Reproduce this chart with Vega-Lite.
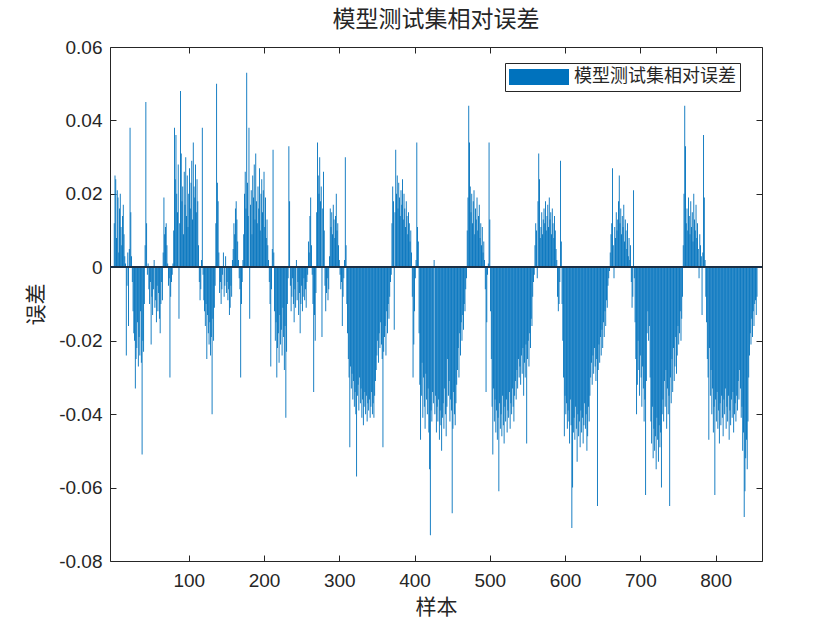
{
"$schema":"https://vega.github.io/schema/vega-lite/v6.json",
"width":652,"height":514,
"autosize":{"type":"none"},
"padding":{"left":110,"top":47,"right":78,"bottom":69},
"background":"white",
"title":{"text":"模型测试集相对误差","font":"Noto Sans CJK SC","fontSize":23,"fontWeight":"normal","color":"#262626","offset":6},
"config":{"view":{"stroke":"#262626","strokeWidth":1},
"axis":{"labelFont":"Liberation Sans","labelFontSize":19,"labelColor":"#262626","tickColor":"#262626","domain":false,"grid":false,"tickSize":-6,"titleFont":"Noto Sans CJK SC","titleFontSize":21,"titleFontWeight":"normal","titleColor":"#262626"}},
"data":{"values":[
{"x":1,"y":0.012},{"x":2,"y":0.025},{"x":3,"y":0.024},{"x":4,"y":0.008},{"x":5,"y":0.021},{"x":6,"y":0.019},{"x":7,"y":0.004},{"x":8,"y":0.016},{"x":9,"y":0.020},{"x":10,"y":0.011},
{"x":11,"y":0.006},{"x":12,"y":0.014},{"x":13,"y":0.017},{"x":14,"y":0.009},{"x":15,"y":0.003},{"x":16,"y":0.001},{"x":17,"y":-0.024},{"x":18,"y":-0.005},{"x":19,"y":0.004},{"x":20,"y":-0.016},
{"x":21,"y":0.005},{"x":22,"y":0.038},{"x":23,"y":0.015},{"x":24,"y":0.003},{"x":25,"y":-0.004},{"x":26,"y":-0.012},{"x":27,"y":-0.018},{"x":28,"y":-0.020},{"x":29,"y":-0.033},{"x":30,"y":-0.025},
{"x":31,"y":-0.022},{"x":32,"y":-0.015},{"x":33,"y":-0.027},{"x":34,"y":-0.019},{"x":35,"y":-0.024},{"x":36,"y":-0.012},{"x":37,"y":-0.026},{"x":38,"y":-0.051},{"x":39,"y":-0.020},{"x":40,"y":-0.023},
{"x":41,"y":-0.010},{"x":42,"y":0.006},{"x":43,"y":0.045},{"x":44,"y":0.012},{"x":45,"y":-0.002},{"x":46,"y":0.001},{"x":47,"y":-0.006},{"x":48,"y":-0.010},{"x":49,"y":-0.004},{"x":50,"y":-0.021},
{"x":51,"y":-0.008},{"x":52,"y":-0.013},{"x":53,"y":-0.006},{"x":54,"y":0.002},{"x":55,"y":-0.011},{"x":56,"y":-0.009},{"x":57,"y":-0.015},{"x":58,"y":-0.005},{"x":59,"y":-0.012},{"x":60,"y":-0.007},
{"x":61,"y":-0.014},{"x":62,"y":-0.018},{"x":63,"y":-0.010},{"x":64,"y":-0.004},{"x":65,"y":-0.009},{"x":66,"y":0.004},{"x":67,"y":0.019},{"x":68,"y":0.009},{"x":69,"y":0.011},{"x":70,"y":0.012},
{"x":71,"y":0.006},{"x":72,"y":0.001},{"x":73,"y":-0.005},{"x":74,"y":-0.003},{"x":75,"y":-0.030},{"x":76,"y":-0.008},{"x":77,"y":-0.004},{"x":78,"y":-0.002},{"x":79,"y":0.001},{"x":80,"y":0.010},
{"x":81,"y":0.038},{"x":82,"y":0.024},{"x":83,"y":0.036},{"x":84,"y":0.020},{"x":85,"y":0.015},{"x":86,"y":0.028},{"x":87,"y":-0.014},{"x":88,"y":0.012},{"x":89,"y":0.048},{"x":90,"y":0.031},
{"x":91,"y":0.018},{"x":92,"y":0.022},{"x":93,"y":0.009},{"x":94,"y":0.026},{"x":95,"y":0.017},{"x":96,"y":0.030},{"x":97,"y":0.014},{"x":98,"y":0.025},{"x":99,"y":0.011},{"x":100,"y":0.020},
{"x":101,"y":0.027},{"x":102,"y":0.016},{"x":103,"y":0.023},{"x":104,"y":0.029},{"x":105,"y":0.013},{"x":106,"y":0.034},{"x":107,"y":0.022},{"x":108,"y":0.019},{"x":109,"y":0.028},{"x":110,"y":0.015},
{"x":111,"y":0.024},{"x":112,"y":0.018},{"x":113,"y":0.006},{"x":114,"y":-0.004},{"x":115,"y":-0.009},{"x":116,"y":-0.006},{"x":117,"y":0.002},{"x":118,"y":0.038},{"x":119,"y":-0.002},{"x":120,"y":-0.009},
{"x":121,"y":-0.012},{"x":122,"y":-0.016},{"x":123,"y":-0.010},{"x":124,"y":-0.025},{"x":125,"y":-0.013},{"x":126,"y":-0.018},{"x":127,"y":-0.021},{"x":128,"y":-0.015},{"x":129,"y":-0.024},{"x":130,"y":-0.019},
{"x":131,"y":-0.040},{"x":132,"y":-0.014},{"x":133,"y":-0.020},{"x":134,"y":-0.011},{"x":135,"y":-0.005},{"x":136,"y":0.012},{"x":137,"y":0.050},{"x":138,"y":0.023},{"x":139,"y":0.018},{"x":140,"y":0.004},
{"x":141,"y":-0.007},{"x":142,"y":-0.004},{"x":143,"y":-0.010},{"x":144,"y":-0.006},{"x":145,"y":-0.002},{"x":146,"y":0.004},{"x":147,"y":-0.008},{"x":148,"y":-0.005},{"x":149,"y":0.003},{"x":150,"y":-0.007},
{"x":151,"y":-0.004},{"x":152,"y":-0.009},{"x":153,"y":-0.006},{"x":154,"y":-0.013},{"x":155,"y":-0.011},{"x":156,"y":-0.005},{"x":157,"y":-0.008},{"x":158,"y":0.002},{"x":159,"y":0.005},{"x":160,"y":0.012},
{"x":161,"y":0.009},{"x":162,"y":0.016},{"x":163,"y":0.018},{"x":164,"y":0.013},{"x":165,"y":0.007},{"x":166,"y":0.002},{"x":167,"y":-0.003},{"x":168,"y":-0.006},{"x":169,"y":-0.030},{"x":170,"y":-0.010},
{"x":171,"y":-0.004},{"x":172,"y":0.002},{"x":173,"y":0.009},{"x":174,"y":0.020},{"x":175,"y":0.026},{"x":176,"y":0.016},{"x":177,"y":0.053},{"x":178,"y":0.023},{"x":179,"y":0.014},{"x":180,"y":0.038},
{"x":181,"y":-0.014},{"x":182,"y":0.017},{"x":183,"y":0.021},{"x":184,"y":0.009},{"x":185,"y":0.025},{"x":186,"y":0.019},{"x":187,"y":0.028},{"x":188,"y":0.013},{"x":189,"y":0.031},{"x":190,"y":0.018},
{"x":191,"y":0.012},{"x":192,"y":0.022},{"x":193,"y":0.016},{"x":194,"y":0.027},{"x":195,"y":0.010},{"x":196,"y":0.020},{"x":197,"y":0.024},{"x":198,"y":0.015},{"x":199,"y":0.021},{"x":200,"y":0.026},
{"x":201,"y":0.011},{"x":202,"y":0.019},{"x":203,"y":0.008},{"x":204,"y":0.013},{"x":205,"y":0.006},{"x":206,"y":0.002},{"x":207,"y":-0.004},{"x":208,"y":-0.010},{"x":209,"y":-0.027},{"x":210,"y":-0.006},
{"x":211,"y":0.005},{"x":212,"y":0.032},{"x":213,"y":0.004},{"x":214,"y":-0.012},{"x":215,"y":-0.020},{"x":216,"y":-0.015},{"x":217,"y":-0.030},{"x":218,"y":-0.022},{"x":219,"y":-0.018},{"x":220,"y":-0.026},
{"x":221,"y":-0.013},{"x":222,"y":-0.021},{"x":223,"y":-0.017},{"x":224,"y":-0.024},{"x":225,"y":-0.011},{"x":226,"y":-0.019},{"x":227,"y":-0.028},{"x":228,"y":-0.016},{"x":229,"y":-0.041},{"x":230,"y":-0.023},
{"x":231,"y":-0.010},{"x":232,"y":-0.003},{"x":233,"y":0.033},{"x":234,"y":0.018},{"x":235,"y":-0.005},{"x":236,"y":-0.012},{"x":237,"y":-0.008},{"x":238,"y":-0.003},{"x":239,"y":-0.010},{"x":240,"y":-0.015},
{"x":241,"y":-0.006},{"x":242,"y":-0.011},{"x":243,"y":0.002},{"x":244,"y":-0.009},{"x":245,"y":-0.004},{"x":246,"y":-0.013},{"x":247,"y":-0.007},{"x":248,"y":-0.018},{"x":249,"y":-0.010},{"x":250,"y":-0.005},
{"x":251,"y":-0.012},{"x":252,"y":-0.008},{"x":253,"y":-0.003},{"x":254,"y":-0.009},{"x":255,"y":-0.006},{"x":256,"y":-0.011},{"x":257,"y":-0.004},{"x":258,"y":-0.002},{"x":259,"y":0.007},{"x":260,"y":0.004},
{"x":261,"y":0.014},{"x":262,"y":0.019},{"x":263,"y":0.006},{"x":264,"y":-0.002},{"x":265,"y":-0.010},{"x":266,"y":-0.034},{"x":267,"y":-0.013},{"x":268,"y":-0.020},{"x":269,"y":-0.007},{"x":270,"y":0.015},
{"x":271,"y":0.034},{"x":272,"y":0.025},{"x":273,"y":0.020},{"x":274,"y":0.030},{"x":275,"y":0.018},{"x":276,"y":0.022},{"x":277,"y":-0.019},{"x":278,"y":0.016},{"x":279,"y":0.026},{"x":280,"y":0.010},
{"x":281,"y":-0.005},{"x":282,"y":-0.012},{"x":283,"y":-0.007},{"x":284,"y":-0.003},{"x":285,"y":-0.009},{"x":286,"y":-0.006},{"x":287,"y":0.003},{"x":288,"y":0.016},{"x":289,"y":0.011},{"x":290,"y":0.015},
{"x":291,"y":0.009},{"x":292,"y":0.017},{"x":293,"y":0.013},{"x":294,"y":0.008},{"x":295,"y":0.014},{"x":296,"y":0.020},{"x":297,"y":0.010},{"x":298,"y":0.012},{"x":299,"y":0.006},{"x":300,"y":0.002},
{"x":301,"y":-0.002},{"x":302,"y":-0.006},{"x":303,"y":-0.004},{"x":304,"y":-0.016},{"x":305,"y":-0.008},{"x":306,"y":-0.003},{"x":307,"y":0.002},{"x":308,"y":0.030},{"x":309,"y":0.006},
{"x":310,"y":-0.010},{"x":311,"y":-0.018},{"x":312,"y":-0.025},{"x":313,"y":-0.030},{"x":314,"y":-0.049},{"x":315,"y":-0.027},{"x":316,"y":-0.033},{"x":317,"y":-0.029},{"x":318,"y":-0.036},{"x":319,"y":-0.031},
{"x":320,"y":-0.038},{"x":321,"y":-0.034},{"x":322,"y":-0.040},{"x":323,"y":-0.057},{"x":324,"y":-0.035},{"x":325,"y":-0.032},{"x":326,"y":-0.039},{"x":327,"y":-0.030},{"x":328,"y":-0.037},{"x":329,"y":-0.033},
{"x":330,"y":-0.041},{"x":331,"y":-0.036},{"x":332,"y":-0.043},{"x":333,"y":-0.038},{"x":334,"y":-0.034},{"x":335,"y":-0.040},{"x":336,"y":-0.035},{"x":337,"y":-0.042},{"x":338,"y":-0.037},{"x":339,"y":-0.039},
{"x":340,"y":-0.036},{"x":341,"y":-0.041},{"x":342,"y":-0.038},{"x":343,"y":-0.034},{"x":344,"y":-0.040},{"x":345,"y":-0.037},{"x":346,"y":-0.041},{"x":347,"y":-0.035},{"x":348,"y":-0.031},{"x":349,"y":-0.028},
{"x":350,"y":-0.024},{"x":351,"y":-0.020},{"x":352,"y":-0.026},{"x":353,"y":-0.018},{"x":354,"y":-0.022},{"x":355,"y":-0.015},{"x":356,"y":-0.021},{"x":357,"y":-0.025},{"x":358,"y":-0.049},{"x":359,"y":-0.023},
{"x":360,"y":-0.019},{"x":361,"y":-0.016},{"x":362,"y":-0.024},{"x":363,"y":-0.012},{"x":364,"y":-0.018},{"x":365,"y":-0.010},{"x":366,"y":-0.014},{"x":367,"y":-0.008},{"x":368,"y":-0.004},{"x":369,"y":-0.002},
{"x":370,"y":0.012},{"x":371,"y":0.022},{"x":372,"y":0.018},{"x":373,"y":-0.017},{"x":374,"y":0.015},{"x":375,"y":0.032},{"x":376,"y":0.020},{"x":377,"y":0.025},{"x":378,"y":0.016},{"x":379,"y":0.023},
{"x":380,"y":0.019},{"x":381,"y":0.014},{"x":382,"y":0.021},{"x":383,"y":0.017},{"x":384,"y":0.024},{"x":385,"y":0.013},{"x":386,"y":0.020},{"x":387,"y":0.016},{"x":388,"y":0.011},{"x":389,"y":0.018},
{"x":390,"y":0.014},{"x":391,"y":0.009},{"x":392,"y":0.015},{"x":393,"y":0.012},{"x":394,"y":0.007},{"x":395,"y":0.010},{"x":396,"y":0.004},
{"x":397,"y":-0.008},{"x":398,"y":-0.030},{"x":399,"y":-0.021},{"x":400,"y":-0.012},{"x":401,"y":-0.003},{"x":402,"y":0.002},{"x":403,"y":0.034},{"x":404,"y":0.011},{"x":405,"y":0.007},
{"x":406,"y":-0.018},{"x":407,"y":-0.032},{"x":408,"y":-0.047},{"x":409,"y":-0.035},{"x":410,"y":-0.026},{"x":411,"y":-0.041},{"x":412,"y":-0.030},{"x":413,"y":-0.038},{"x":414,"y":-0.044},{"x":415,"y":-0.029},
{"x":416,"y":-0.036},{"x":417,"y":-0.040},{"x":418,"y":-0.033},{"x":419,"y":-0.045},{"x":420,"y":-0.055},{"x":421,"y":-0.073},{"x":422,"y":-0.039},{"x":423,"y":-0.042},{"x":424,"y":-0.034},{"x":425,"y":-0.037},
{"x":426,"y":0.002},
{"x":427,"y":-0.040},{"x":428,"y":-0.035},{"x":429,"y":-0.045},{"x":430,"y":-0.038},{"x":431,"y":-0.042},{"x":432,"y":-0.036},{"x":433,"y":-0.047},{"x":434,"y":-0.039},{"x":435,"y":-0.043},{"x":436,"y":-0.050},
{"x":437,"y":-0.041},{"x":438,"y":-0.037},{"x":439,"y":-0.044},{"x":440,"y":-0.033},{"x":441,"y":-0.040},{"x":442,"y":-0.046},{"x":443,"y":-0.038},{"x":444,"y":-0.025},{"x":445,"y":-0.035},{"x":446,"y":-0.031},
{"x":447,"y":-0.042},{"x":448,"y":-0.036},{"x":449,"y":-0.039},{"x":450,"y":-0.067},{"x":451,"y":-0.044},{"x":452,"y":-0.034},{"x":453,"y":-0.040},{"x":454,"y":-0.043},{"x":455,"y":-0.037},{"x":456,"y":-0.032},
{"x":457,"y":-0.028},{"x":458,"y":-0.022},{"x":459,"y":-0.030},{"x":460,"y":-0.018},{"x":461,"y":-0.024},{"x":462,"y":-0.015},{"x":463,"y":-0.020},{"x":464,"y":-0.013},{"x":465,"y":-0.017},{"x":466,"y":-0.010},
{"x":467,"y":-0.012},{"x":468,"y":-0.006},{"x":469,"y":-0.003},
{"x":470,"y":0.010},{"x":471,"y":0.019},{"x":472,"y":0.044},{"x":473,"y":0.034},{"x":474,"y":0.022},{"x":475,"y":0.015},{"x":476,"y":0.020},{"x":477,"y":0.012},{"x":478,"y":0.018},{"x":479,"y":0.021},
{"x":480,"y":0.009},{"x":481,"y":0.016},{"x":482,"y":0.013},{"x":483,"y":0.019},{"x":484,"y":0.010},{"x":485,"y":0.014},{"x":486,"y":0.017},{"x":487,"y":0.008},{"x":488,"y":0.012},{"x":489,"y":0.006},
{"x":490,"y":0.011},{"x":491,"y":0.004},{"x":492,"y":0.007},{"x":493,"y":0.002},
{"x":494,"y":-0.006},{"x":495,"y":-0.034},{"x":496,"y":-0.015},{"x":497,"y":-0.002},{"x":498,"y":0.001},{"x":499,"y":0.034},{"x":500,"y":0.013},
{"x":501,"y":-0.012},{"x":502,"y":-0.025},{"x":503,"y":-0.038},{"x":504,"y":-0.051},{"x":505,"y":-0.033},{"x":506,"y":-0.042},{"x":507,"y":-0.036},{"x":508,"y":-0.045},{"x":509,"y":-0.039},{"x":510,"y":-0.047},
{"x":511,"y":-0.041},{"x":512,"y":-0.061},{"x":513,"y":-0.037},{"x":514,"y":-0.044},{"x":515,"y":-0.040},{"x":516,"y":-0.046},{"x":517,"y":-0.035},{"x":518,"y":-0.043},{"x":519,"y":-0.048},{"x":520,"y":-0.038},
{"x":521,"y":-0.042},{"x":522,"y":-0.036},{"x":523,"y":-0.045},{"x":524,"y":-0.039},{"x":525,"y":-0.041},{"x":526,"y":-0.034},{"x":527,"y":-0.044},{"x":528,"y":-0.037},{"x":529,"y":-0.040},{"x":530,"y":-0.033},
{"x":531,"y":-0.038},{"x":532,"y":-0.042},{"x":533,"y":-0.035},{"x":534,"y":-0.031},{"x":535,"y":-0.036},{"x":536,"y":-0.028},{"x":537,"y":-0.033},{"x":538,"y":-0.025},{"x":539,"y":-0.030},{"x":540,"y":-0.027},
{"x":541,"y":-0.032},{"x":542,"y":-0.024},{"x":543,"y":-0.029},{"x":544,"y":-0.022},{"x":545,"y":-0.035},{"x":546,"y":-0.026},{"x":547,"y":-0.030},{"x":548,"y":-0.021},{"x":549,"y":-0.048},{"x":550,"y":-0.025},
{"x":551,"y":-0.020},{"x":552,"y":-0.027},{"x":553,"y":-0.018},{"x":554,"y":-0.022},{"x":555,"y":-0.014},{"x":556,"y":-0.016},{"x":557,"y":-0.008},{"x":558,"y":-0.004},{"x":559,"y":-0.002},
{"x":560,"y":0.006},{"x":561,"y":0.012},{"x":562,"y":0.010},{"x":563,"y":-0.003},{"x":564,"y":0.018},{"x":565,"y":0.031},{"x":566,"y":0.024},{"x":567,"y":0.008},
{"x":568,"y":0.011},{"x":569,"y":0.015},{"x":570,"y":0.009},{"x":571,"y":0.013},{"x":572,"y":0.016},{"x":573,"y":0.012},{"x":574,"y":0.018},{"x":575,"y":0.010},{"x":576,"y":0.014},{"x":577,"y":0.017},
{"x":578,"y":0.011},{"x":579,"y":0.019},{"x":580,"y":0.013},{"x":581,"y":0.015},{"x":582,"y":0.009},{"x":583,"y":0.016},{"x":584,"y":0.012},{"x":585,"y":0.008},{"x":586,"y":0.014},{"x":587,"y":0.010},
{"x":588,"y":0.005},{"x":589,"y":0.002},
{"x":590,"y":-0.008},{"x":591,"y":-0.012},{"x":592,"y":-0.010},{"x":593,"y":-0.004},{"x":594,"y":0.029},{"x":595,"y":0.007},
{"x":596,"y":-0.010},{"x":597,"y":-0.020},{"x":598,"y":-0.030},{"x":599,"y":-0.046},{"x":600,"y":-0.035},{"x":601,"y":-0.040},{"x":602,"y":-0.037},{"x":603,"y":-0.044},{"x":604,"y":-0.039},{"x":605,"y":-0.042},
{"x":606,"y":-0.048},{"x":607,"y":-0.036},{"x":608,"y":-0.043},{"x":609,"y":-0.071},{"x":610,"y":-0.060},{"x":611,"y":-0.045},{"x":612,"y":-0.041},{"x":613,"y":-0.047},{"x":614,"y":-0.038},{"x":615,"y":-0.044},
{"x":616,"y":-0.053},{"x":617,"y":-0.040},{"x":618,"y":-0.046},{"x":619,"y":-0.042},{"x":620,"y":-0.049},{"x":621,"y":-0.039},{"x":622,"y":-0.045},{"x":623,"y":-0.041},{"x":624,"y":-0.048},{"x":625,"y":-0.043},
{"x":626,"y":-0.037},{"x":627,"y":-0.044},{"x":628,"y":-0.040},{"x":629,"y":-0.050},{"x":630,"y":-0.046},{"x":631,"y":-0.038},{"x":632,"y":-0.042},{"x":633,"y":-0.035},{"x":634,"y":-0.030},{"x":635,"y":-0.026},
{"x":636,"y":-0.032},{"x":637,"y":-0.024},{"x":638,"y":-0.029},{"x":639,"y":-0.022},{"x":640,"y":-0.027},{"x":641,"y":-0.031},{"x":642,"y":-0.025},{"x":643,"y":-0.065},{"x":644,"y":-0.028},{"x":645,"y":-0.021},
{"x":646,"y":-0.026},{"x":647,"y":-0.019},{"x":648,"y":-0.024},{"x":649,"y":-0.017},{"x":650,"y":-0.022},{"x":651,"y":-0.015},{"x":652,"y":-0.019},{"x":653,"y":-0.012},{"x":654,"y":-0.016},{"x":655,"y":-0.009},
{"x":656,"y":-0.011},{"x":657,"y":-0.005},{"x":658,"y":-0.003},{"x":659,"y":-0.001},
{"x":660,"y":0.004},{"x":661,"y":0.009},{"x":662,"y":0.012},{"x":663,"y":0.027},{"x":664,"y":0.006},{"x":665,"y":-0.003},{"x":666,"y":0.011},{"x":667,"y":0.008},{"x":668,"y":0.015},{"x":669,"y":0.010},
{"x":670,"y":0.013},{"x":671,"y":0.018},{"x":672,"y":0.025},{"x":673,"y":0.012},{"x":674,"y":0.016},{"x":675,"y":0.009},{"x":676,"y":0.014},{"x":677,"y":0.011},{"x":678,"y":0.017},{"x":679,"y":0.007},
{"x":680,"y":0.013},{"x":681,"y":0.010},{"x":682,"y":0.005},{"x":683,"y":0.012},{"x":684,"y":0.003},{"x":685,"y":0.008},{"x":686,"y":0.002},{"x":687,"y":0.006},
{"x":688,"y":-0.004},{"x":689,"y":-0.011},{"x":690,"y":-0.008},{"x":691,"y":0.021},{"x":692,"y":-0.003},
{"x":693,"y":-0.015},{"x":694,"y":-0.025},{"x":695,"y":-0.040},{"x":696,"y":-0.032},{"x":697,"y":-0.020},{"x":698,"y":-0.028},{"x":699,"y":-0.035},{"x":700,"y":-0.024},{"x":701,"y":-0.030},{"x":702,"y":-0.038},
{"x":703,"y":-0.027},{"x":704,"y":-0.033},{"x":705,"y":-0.042},{"x":706,"y":-0.036},{"x":707,"y":-0.062},{"x":708,"y":-0.031},{"x":709,"y":-0.018},
{"x":710,"y":-0.012},{"x":711,"y":-0.020},{"x":712,"y":-0.016},{"x":713,"y":-0.030},{"x":714,"y":-0.042},{"x":715,"y":-0.048},{"x":716,"y":-0.038},{"x":717,"y":-0.052},{"x":718,"y":-0.044},{"x":719,"y":-0.050},
{"x":720,"y":-0.046},{"x":721,"y":-0.055},{"x":722,"y":-0.041},{"x":723,"y":-0.047},{"x":724,"y":-0.053},{"x":725,"y":-0.043},{"x":726,"y":-0.049},{"x":727,"y":-0.045},{"x":728,"y":-0.060},{"x":729,"y":-0.040},
{"x":730,"y":-0.036},{"x":731,"y":-0.042},{"x":732,"y":-0.031},{"x":733,"y":-0.038},{"x":734,"y":-0.028},{"x":735,"y":-0.044},{"x":736,"y":-0.033},{"x":737,"y":-0.040},{"x":738,"y":-0.035},{"x":739,"y":-0.065},
{"x":740,"y":-0.030},{"x":741,"y":-0.037},{"x":742,"y":-0.025},{"x":743,"y":-0.034},{"x":744,"y":-0.022},{"x":745,"y":-0.031},{"x":746,"y":-0.027},{"x":747,"y":-0.019},{"x":748,"y":-0.029},{"x":749,"y":-0.024},
{"x":750,"y":-0.016},{"x":751,"y":-0.021},{"x":752,"y":-0.018},{"x":753,"y":-0.012},{"x":754,"y":-0.020},{"x":755,"y":-0.014},{"x":756,"y":-0.008},
{"x":757,"y":0.006},{"x":758,"y":0.020},{"x":759,"y":0.044},{"x":760,"y":0.033},{"x":761,"y":0.012},{"x":762,"y":0.016},{"x":763,"y":0.010},{"x":764,"y":0.019},{"x":765,"y":0.014},{"x":766,"y":0.009},
{"x":767,"y":0.018},{"x":768,"y":0.011},{"x":769,"y":0.015},{"x":770,"y":0.007},{"x":771,"y":0.020},{"x":772,"y":0.013},{"x":773,"y":0.010},{"x":774,"y":0.017},{"x":775,"y":0.008},{"x":776,"y":0.012},
{"x":777,"y":0.005},{"x":778,"y":-0.003},{"x":779,"y":0.009},{"x":780,"y":0.006},{"x":781,"y":0.003},{"x":782,"y":-0.013},{"x":783,"y":0.004},{"x":784,"y":0.036},{"x":785,"y":0.019},{"x":786,"y":0.002},
{"x":787,"y":-0.008},{"x":788,"y":-0.015},{"x":789,"y":-0.025},{"x":790,"y":-0.030},{"x":791,"y":-0.047},{"x":792,"y":-0.022},{"x":793,"y":-0.035},{"x":794,"y":-0.028},{"x":795,"y":-0.040},{"x":796,"y":-0.033},
{"x":797,"y":-0.045},{"x":798,"y":-0.038},{"x":799,"y":-0.062},{"x":800,"y":-0.036},{"x":801,"y":-0.042},{"x":802,"y":-0.034},{"x":803,"y":-0.044},{"x":804,"y":-0.039},{"x":805,"y":-0.048},{"x":806,"y":-0.037},
{"x":807,"y":-0.043},{"x":808,"y":-0.035},{"x":809,"y":-0.041},{"x":810,"y":-0.046},{"x":811,"y":-0.036},{"x":812,"y":-0.040},{"x":813,"y":-0.033},{"x":814,"y":-0.044},{"x":815,"y":-0.038},{"x":816,"y":-0.042},
{"x":817,"y":-0.035},{"x":818,"y":-0.047},{"x":819,"y":-0.039},{"x":820,"y":-0.043},{"x":821,"y":-0.036},{"x":822,"y":-0.041},{"x":823,"y":-0.034},{"x":824,"y":-0.045},{"x":825,"y":-0.040},{"x":826,"y":-0.037},
{"x":827,"y":-0.042},{"x":828,"y":-0.035},{"x":829,"y":-0.039},{"x":830,"y":-0.031},{"x":831,"y":-0.036},{"x":832,"y":-0.028},{"x":833,"y":-0.033},{"x":834,"y":-0.041},{"x":835,"y":-0.038},{"x":836,"y":-0.050},
{"x":837,"y":-0.045},{"x":838,"y":-0.068},{"x":839,"y":-0.061},{"x":840,"y":-0.052},{"x":841,"y":-0.047},{"x":842,"y":-0.055},{"x":843,"y":-0.042},{"x":844,"y":-0.030},{"x":845,"y":-0.024},{"x":846,"y":-0.018},
{"x":847,"y":-0.021},{"x":848,"y":-0.014},{"x":849,"y":-0.019},{"x":850,"y":-0.012},{"x":851,"y":-0.016},{"x":852,"y":-0.010},{"x":853,"y":-0.009},{"x":854,"y":-0.013},{"x":855,"y":-0.008}
]},
"layer":[
{"mark":{"type":"bar","size":0.9,"opacity":1,"clip":true},
 "encoding":{
  "x":{"field":"x","type":"quantitative","scale":{"domain":[2,855],"nice":false,"zero":false},
       "axis":{"orient":"bottom","values":[100,200,300,400,500,600,700,800],"title":"样本","labelPadding":16,"titlePadding":6}},
  "y":{"field":"y","type":"quantitative","scale":{"domain":[-0.08,0.06],"nice":false,"zero":false},
       "axis":{"orient":"left","values":[-0.08,-0.06,-0.04,-0.02,0,0.02,0.04,0.06],"title":"误差","labelPadding":14,"titlePadding":12,
               "labelExpr":"datum.value == 0 ? '0' : replace(format(datum.value, '.2f'), '\u2212', '-')"}},
  "color":{"datum":"模型测试集相对误差","type":"nominal","scale":{"range":["#0072BD"]},
       "legend":{"orient":"none","legendX":395,"legendY":16,"title":null,
                 "symbolType":"M-1,-0.27L1,-0.27L1,0.27L-1,0.27Z","symbolSize":3600,"symbolStrokeWidth":0,"symbolOpacity":1,
                 "clipHeight":20,"labelLimit":0,"labelOffset":5,
                 "labelFont":"Noto Sans CJK SC","labelFontSize":18,"labelColor":"#262626",
                 "strokeColor":"#262626","fillColor":"white","padding":4}}
 }},
{"mark":{"type":"rule","color":"#1e3246","strokeWidth":1},"encoding":{"y":{"datum":0,"axis":null}}},
{"mark":{"type":"point","opacity":0},
 "encoding":{
  "x":{"field":"x","type":"quantitative","axis":{"orient":"top","values":[100,200,300,400,500,600,700,800],"labels":false,"title":null}},
  "y":{"field":"y","type":"quantitative","axis":{"orient":"right","values":[-0.08,-0.06,-0.04,-0.02,0,0.02,0.04,0.06],"labels":false,"title":null}}
 }}
],
"resolve":{"axis":{"x":"independent","y":"independent"}}
}
